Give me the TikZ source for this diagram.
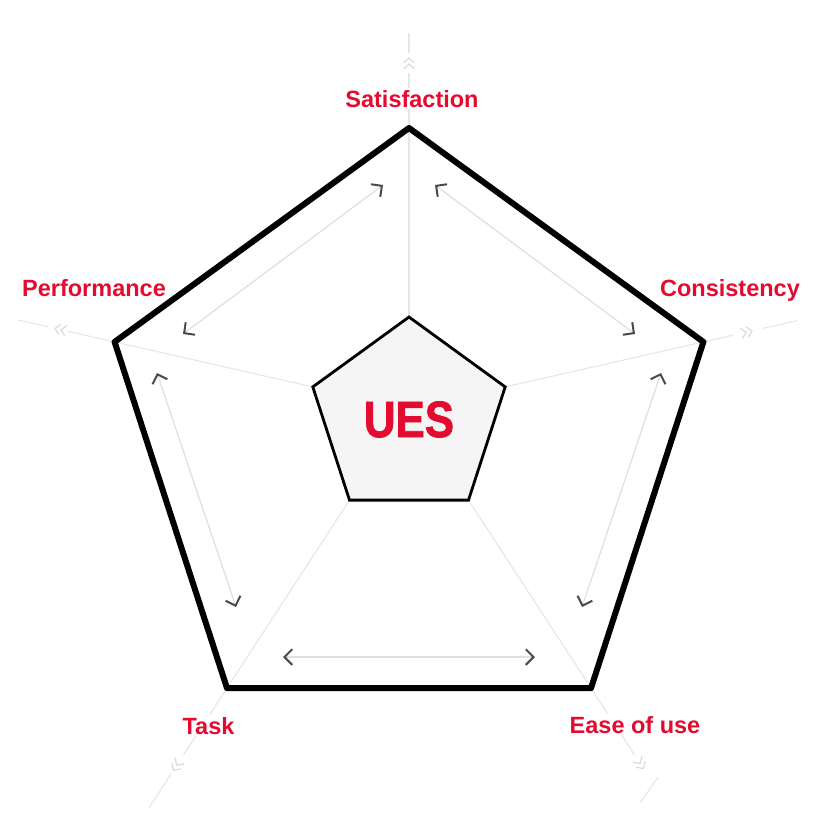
\documentclass[tikz,border=0pt]{standalone}
\usepackage{fontspec}
\setmainfont{Liberation Sans}
\newfontfamily\uesfont[BoldFeatures={FakeBold=1.6}]{Liberation Sans}
\usetikzlibrary{arrows.meta}
\definecolor{uesred}{HTML}{E40B31}
\definecolor{spokegray}{HTML}{E6E6E6}
\definecolor{chevgray}{HTML}{DADADA}
\definecolor{linegray}{HTML}{E0E0E0}
\definecolor{tipgray}{HTML}{4A4A4A}
\definecolor{corefill}{HTML}{F5F5F5}
\tikzset{
 Barb/.tip={Straight Barb[length=7.8pt,width=15.6pt,line width=2pt,color=tipgray]},
 spoke/.style={draw=spokegray, line width=1.1pt},
 edgearr/.style={draw=linegray, line width=1.3pt, arrows={Barb-Barb}},
 outerpent/.style={draw=black, line width=6pt, line join=round},
 innerpent/.style={draw=black, fill=corefill, line width=2.8pt, line join=miter},
 lab/.style={text=uesred, font=\fontsize{23.5}{28}\selectfont\bfseries, fill=white, inner sep=2pt, anchor=base},
 dchev/.pic={\draw[chevgray, line width=1.2pt] (-5,-5.3)--(0,0)--(-5,5.3) (-11,-5.3)--(-6,0)--(-11,5.3);}
}
\begin{document}
\begin{tikzpicture}[x=1pt,y=-1pt]
\useasboundingbox (0,0) rectangle (821,817);
% outer vertices
\coordinate (o0) at (409,128);
\coordinate (o1) at (114.6,341.9);
\coordinate (o2) at (227,688.1);
\coordinate (o3) at (591,688.1);
\coordinate (o4) at (703.4,341.9);
% inner vertices
\coordinate (i0) at (409,317);
\coordinate (i1) at (312.8,386.9);
\coordinate (i2) at (349.5,500.1);
\coordinate (i3) at (468.5,500.1);
\coordinate (i4) at (505.2,386.9);
% spoke points
\coordinate (s0a) at (409,73);   \coordinate (c0) at (409,58);   \coordinate (s0b) at (409,53);   \coordinate (e0) at (409,33);
\coordinate (s1a) at (68.0,331.3); \coordinate (c1) at (55.1,328.4); \coordinate (s1b) at (48.0,326.8); \coordinate (e1) at (18.0,320.0);
\coordinate (s4a) at (733.0,335.2); \coordinate (c4) at (752.0,330.9); \coordinate (s4b) at (762.9,328.4); \coordinate (e4) at (797.0,320.6);
\coordinate (s2a) at (183.3,755.1); \coordinate (c2) at (173.5,770.2); \coordinate (s2b) at (170.8,774.4); \coordinate (e2) at (148.9,807.9);
\coordinate (s3a) at (634.7,755.1); \coordinate (c3) at (643.4,768.5); \coordinate (s3b) at (658,777); \coordinate (e3) at (640,803);
% spokes
\draw[spoke] (i0) -- (s0a) (s0b) -- (e0);
\draw[spoke] (i1) -- (s1a) (s1b) -- (e1);
\draw[spoke] (i4) -- (s4a) (s4b) -- (e4);
\draw[spoke] (i2) -- (s2a) (s2b) -- (e2);
\draw[spoke] (i3) -- (s3a) (s3b) -- (e3);
\pic[rotate=90] at (c0) {dchev};
\pic[rotate=167.2] at (c1) {dchev};
\pic[rotate=12.8] at (c4) {dchev};
\pic[rotate=-123.1] at (c2) {dchev};
\pic[rotate=-56.9] at (c3) {dchev};
% edge arrows
\coordinate (a1) at (183,334); \coordinate (a2) at (383,185);
\coordinate (b1) at (435,185); \coordinate (b2) at (635,334);
\coordinate (c1a) at (157,373); \coordinate (c1b) at (236,607);
\coordinate (d1) at (661,373); \coordinate (d2) at (582,607);
\coordinate (f1) at (283,657); \coordinate (f2) at (535,657);
\draw[edgearr] (a1) -- (a2);
\draw[edgearr] (b1) -- (b2);
\draw[edgearr] (c1a) -- (c1b);
\draw[edgearr] (d1) -- (d2);
\draw[edgearr] (f1) -- (f2);
% pentagons
\draw[outerpent] (o0) -- (o4) -- (o3) -- (o2) -- (o1) -- cycle;
\draw[innerpent] (i0) -- (i4) -- (i3) -- (i2) -- (i1) -- cycle;
% labels
\node[lab] (lsat) at (412,107) {Satisfaction};
\node[lab] (lperf) at (94,296) {Performance};
\node[lab] (lcons) at (730,296) {Consistency};
\node[lab] (ltask) at (208.5,734) {Task};
\node[lab] (lease) at (635,733) {Ease of use};
\node[text=uesred, anchor=base, inner sep=0pt, font=\uesfont\fontsize{51}{56}\selectfont\bfseries] (ues) at (409,437) {\scalebox{0.86}[1]{UES}};
\end{tikzpicture}
\end{document}
